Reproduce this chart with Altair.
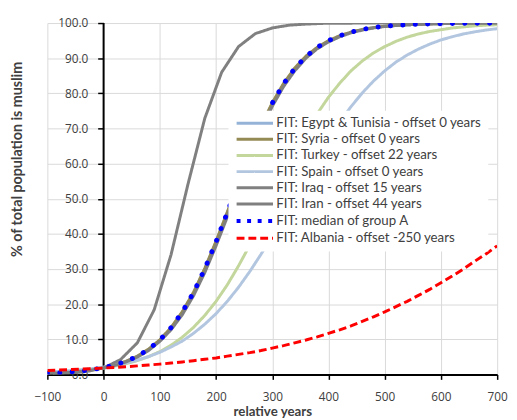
import altair as alt
import pandas as pd

years = list(range(-100, 701, 20))
iraq_years = list(range(-90, 691, 30))
y_axis_at = [0]

egypt = [0.34, 0.48, 0.68, 0.96, 1.36, 1.9,
         2.68, 3.7, 5.15, 7.1, 9.75, 13.2, 17.7, 23.2, 30.0, 37.7,
         46.0, 54.6, 62.9, 70.5, 77.1, 82.6, 87.0, 90.4, 93.0, 94.9,
         96.3, 97.4, 98.1, 98.7, 99.1, 99.3, 99.5, 99.65, 99.75, 99.82,
         99.87, 99.9, 99.93, 99.95, 99.97]
syria = [0.35, 0.49, 0.69, 0.97, 1.37, 1.92,
         2.71, 3.75, 5.2, 7.2, 9.85, 13.35, 17.85, 23.4, 30.2, 37.9,
         46.2, 54.8, 63.1, 70.7, 77.3, 82.8, 87.2, 90.6, 93.1, 95.0,
         96.4, 97.4, 98.2, 98.7, 99.1, 99.35, 99.5, 99.66, 99.76, 99.83,
         99.88, 99.91, 99.94, 99.96, 99.97]
turkey = [0.49, 0.64, 0.83, 1.08, 1.40, 1.82,
          2.36, 3.05, 3.95, 5.07, 6.5, 8.3, 10.6, 13.4, 16.8, 20.8,
          25.5, 30.9, 36.8, 43.2, 49.8, 56.4, 62.8, 68.7, 74.2, 78.9,
          82.9, 86.4, 89.2, 91.5, 93.3, 94.8, 96.0, 96.9, 97.6, 98.1,
          98.6, 98.9, 99.2, 99.4, 99.5]
spain = [0.68, 0.86, 1.08, 1.34, 1.68, 2.10,
         2.63, 3.27, 4.07, 5.07, 6.3, 7.8, 9.5, 11.7, 14.3, 17.3,
         20.8, 24.8, 29.3, 34.2, 39.5, 45.0, 50.7, 56.3, 61.8, 67.0,
         71.9, 76.2, 80.1, 83.5, 86.4, 88.9, 90.9, 92.6, 94.0, 95.2,
         96.1, 96.9, 97.5, 98.0, 98.4]
iraq = [0.16, 0.37, 0.83, 1.87, 4.2, 9.0, 18.4, 34.1, 54.1, 72.9, 86.0, 93.3,
        97.0, 98.6, 99.4, 99.7, 99.9, 99.95, 99.98, 100, 100, 100, 100, 100,
        100, 100, 100]
iran = [0.33, 0.46, 0.65, 0.92, 1.30, 1.82,
        2.56, 3.55, 4.93, 6.8, 9.4, 12.7, 17.0, 22.4, 29.0, 36.6,
        44.8, 53.4, 61.8, 69.5, 76.3, 81.9, 86.4, 90.0, 92.7, 94.6,
        96.1, 97.2, 98.0, 98.6, 99.0, 99.3, 99.5, 99.63, 99.74, 99.82,
        99.87, 99.91, 99.93, 99.95, 99.97]
median = [0.35, 0.49, 0.69, 0.97, 1.37, 1.91,
          2.70, 3.73, 5.18, 7.17, 9.82, 13.3, 17.8, 23.3, 30.1, 37.8,
          46.1, 54.7, 63.0, 70.6, 77.2, 82.7, 87.1, 90.5, 93.1, 95.0,
          96.4, 97.4, 98.2, 98.7, 99.1, 99.35, 99.5, 99.66, 99.76, 99.83,
          99.88, 99.91, 99.94, 99.96, 99.97]
albania = [1.12, 1.24, 1.37, 1.51, 1.65, 1.82,
           2.0, 2.21, 2.43, 2.68, 2.94, 3.23, 3.56, 3.92, 4.3, 4.7,
           5.2, 5.7, 6.2, 6.8, 7.5, 8.2, 9.0, 9.8, 10.7, 11.7,
           12.7, 13.8, 15.1, 16.4, 17.8, 19.3, 20.8, 22.5, 24.2, 26.1,
           28.0, 30.0, 32.2, 34.3, 36.6]

labels = ["FIT: Egypt & Tunisia - offset 0 years",
          "FIT: Syria - offset 0 years",
          "FIT: Turkey - offset 22 years",
          "FIT: Spain - offset 0 years",
          "FIT: Iraq - offset 15 years",
          "FIT: Iran - offset 44 years",
          "FIT: median of group A",
          "FIT: Albania - offset -250 years"]
colors = ["#95B3D7", "#948A54", "#C3D69B", "#B3C6E0", "#808080", "#7F7F7F",
          "#0000FF", "#FF0000"]
dashes = [[1, 0], [1, 0], [1, 0], [1, 0], [1, 0], [1, 0], [4, 6.7], [8, 4]]
widths = [3, 3, 3, 3, 3, 3, 4, 3]

series_data = [(egypt, years), (syria, years), (turkey, years), (spain, years),
               (iraq, iraq_years), (iran, years), (median, years), (albania, years)]

rows = []
for name, (vals, xs) in zip(labels, series_data):
    for x, v in zip(xs, vals):
        rows.append({"year": x, "value": v, "series": name})
df = pd.DataFrame(rows)

W, H = 457, 357
TXT = "#404040"
GRID = "#d9d9d9"

x_scale = alt.Scale(domain=[-100, 700], nice=False, zero=False)
x_axis = alt.Axis(values=list(range(-100, 701, 100)), format="d",
                  grid=True, gridColor=GRID, labelFlush=False,
                  domainColor="black", domainWidth=2,
                  tickColor="black", tickSize=5, tickWidth=1.5,
                  labelFont="Open Sans", labelFontSize=12,
                  labelColor=TXT, labelPadding=12,
                  title="relative years", titleFont="Lato",
                  titleFontSize=13.5, titleFontWeight="bold",
                  titleColor=TXT, titlePadding=3)
x_enc = alt.X("year:Q", scale=x_scale, axis=x_axis)
y_enc = alt.Y("value:Q",
              scale=alt.Scale(domain=[0, 100], nice=False),
              axis=alt.Axis(values=list(range(0, 101, 10)), format=".1f",
                            offset=-W / 8, grid=True, gridColor=GRID,
                            labelFlush=False, domain=False,
                            tickColor="black", tickSize=6, tickWidth=1.5,
                            labelFont="Open Sans", labelFontSize=12,
                            labelColor=TXT, labelPadding=10,
                            title="% of total population is muslim",
                            titleFont="Lato", titleFontSize=14.5,
                            titleFontWeight="bold", titleColor=TXT,
                            titleX=-80, titleY=138))

legend = alt.Legend(title=None, orient="none", legendX=184, legendY=89,
                    fillColor="white", padding=6, rowPadding=1.4,
                    symbolType="M-4.625,0H4.625", symbolSize=64, symbolOffset=14,
                    labelOffset=15, labelFont="Lato", labelFontSize=13.5,
                    labelColor=TXT, labelLimit=400)

color = alt.Color("series:N", scale=alt.Scale(domain=labels, range=colors), legend=legend)
dash = alt.StrokeDash("series:N", scale=alt.Scale(domain=labels, range=dashes), legend=legend)
sw = alt.StrokeWidth("series:N", scale=alt.Scale(type="ordinal", domain=labels, range=widths), legend=legend)

axis_line = alt.Chart(pd.DataFrame({"year": y_axis_at})).mark_rule(
    color="black", strokeWidth=2).encode(x=x_enc)

layers = [axis_line]
for name in labels:
    base = alt.Chart(df).transform_filter(alt.datum.series == name)
    if name == "FIT: median of group A":
        m = base.mark_line(strokeCap="round", strokeDash=[0.1, 12.5], strokeWidth=5, clip=True)
        layers.append(m.encode(x=x_enc, y=y_enc, color=color))
    else:
        m = base.mark_line(strokeCap="butt", clip=True)
        layers.append(m.encode(x=x_enc, y=y_enc, color=color, strokeDash=dash, strokeWidth=sw))

chart = alt.layer(*layers).properties(
    width=W, height=H,
    padding={"left": 40, "top": 12, "right": 12, "bottom": 43},
    autosize=alt.AutoSizeParams(type="none"),
    background="white",
).configure_view(strokeWidth=0)

chart.save("out.html", embed_options={"renderer": "svg", "actions": False})
